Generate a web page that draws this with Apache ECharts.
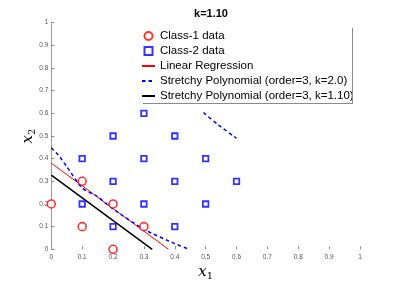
<!DOCTYPE html>
<html><head><meta charset="utf-8">
<script src="https://cdn.jsdelivr.net/npm/echarts@6/dist/echarts.min.js"></script>
<style>html,body{margin:0;padding:0;background:#fff}#c{width:398px;height:282px}</style>
</head><body><div id="c"></div>
<script>
var titleText = 'k=1.10';
var seriesNames = ['Class-1 data','Class-2 data','Linear Regression','Stretchy Polynomial (order=3, k=2.0)','Stretchy Polynomial (order=3, k=1.10)'];
var xTickLabels = ['0','0.1','0.2','0.3','0.4','0.5','0.6','0.7','0.8','0.9','1'];
var yTickLabels = ['0','0.1','0.2','0.3','0.4','0.5','0.6','0.7','0.8','0.9','1'];
var class1 = [[0,0.2],[0.1,0.3],[0.1,0.1],[0.2,0.2],[0.2,0],[0.3,0.1]];
var class2 = [[0.1,0.4],[0.1,0.2],[0.2,0.5],[0.2,0.3],[0.2,0.1],[0.3,0.6],[0.3,0.4],[0.3,0.2],[0.4,0.5],[0.4,0.3],[0.4,0.1],[0.5,0.4],[0.5,0.2],[0.6,0.3]];
var linReg = [[0,0.38],[0.38,0]];
var polyK20Lower = [[0,0.448],[0.023,0.416],[0.05,0.365],[0.1,0.27],[0.147,0.235],[0.2,0.178],[0.3,0.088],[0.4,0.025],[0.446,0]];
var polyK20Upper = [[0.493,0.603],[0.54,0.55],[0.6,0.49]];
var polyK110 = [[0,0.327],[0.327,0]];

var polyK20 = polyK20Lower.concat([[null,null]]).concat(polyK20Upper);

var chart = echarts.init(document.getElementById('c'), null, {renderer:'canvas'});
var tickColor = '#8a8a8a';
var hideSym = {opacity:0};
var nameRich = {
  i:{fontFamily:'DejaVu Serif',fontStyle:'italic',fontSize:15,lineHeight:18,verticalAlign:'middle',color:'#000'},
  s:{fontFamily:'DejaVu Serif',fontSize:10,lineHeight:10,verticalAlign:'bottom',color:'#000'}
};
chart.setOption({
  animation:false,
  backgroundColor:'#fff',
  title:{text:titleText,left:206,textAlign:'center',top:3,textStyle:{fontSize:11,fontWeight:'bold',color:'#000',fontFamily:'Liberation Sans'}},
  grid:{left:51.3,right:38,top:22.7,bottom:32.7,containLabel:false,outerBoundsMode:'none'},
  legend:{
    orient:'vertical',left:141,top:30,padding:0,itemWidth:13,itemHeight:8,itemGap:3,
    textStyle:{fontSize:11.5,color:'#000',fontFamily:'Liberation Sans'},
    data:[
      {name:seriesNames[0],icon:'circle'},
      {name:seriesNames[1],icon:'path://M0,0H10V10H0Z'},
      {name:seriesNames[2],itemStyle:hideSym},
      {name:seriesNames[3],itemStyle:hideSym},
      {name:seriesNames[4],itemStyle:hideSym}
    ]
  },
  xAxis:{
    type:'value',min:0,max:1,interval:0.1,
    name:'{i|x}{s|1}',nameLocation:'middle',nameGap:14,nameMoveOverlap:false,
    nameTextStyle:{rich:nameRich},
    axisLine:{show:false},
    axisTick:{show:true,inside:true,length:3,lineStyle:{color:tickColor}},
    splitLine:{show:false},
    axisLabel:{fontSize:6.5,color:'#555',margin:4,fontFamily:'Liberation Sans',
      formatter:function(v){return xTickLabels[Math.round(v*10)];}}
  },
  yAxis:{
    type:'value',min:0,max:1,interval:0.1,
    name:'{i|x}{s|2}',nameLocation:'middle',nameGap:14,nameRotate:90,nameMoveOverlap:false,
    nameTextStyle:{rich:nameRich},
    axisLine:{show:true,lineStyle:{color:'#9a9a9a',width:1}},
    axisTick:{show:true,inside:true,length:3,lineStyle:{color:tickColor}},
    splitLine:{show:false},
    axisLabel:{fontSize:6.5,color:'#555',margin:3,fontFamily:'Liberation Sans',
      formatter:function(v){return yTickLabels[Math.round(v*10)];}}
  },
  graphic:[
    {type:'line',shape:{x1:352.5,y1:28,x2:352.5,y2:103},style:{stroke:'#8a8a8a',lineWidth:1},z:10},
    {type:'line',shape:{x1:143,y1:103.5,x2:353,y2:103.5},style:{stroke:'#8a8a8a',lineWidth:1},z:10}
  ],
  series:[
    {name:seriesNames[0],type:'scatter',data:class1,symbol:'circle',symbolSize:8,clip:false,
     itemStyle:{color:'#fff',borderColor:'#ff0000',borderWidth:1.6},z:5},
    {name:seriesNames[1],type:'scatter',data:class2,symbol:'rect',symbolSize:5.5,clip:false,
     itemStyle:{color:'#fff',borderColor:'#0000ff',borderWidth:1.8},z:5},
    {name:seriesNames[2],type:'line',data:linReg,symbol:'none',
     lineStyle:{color:'#ff0000',width:1},itemStyle:{color:'#ff0000'},z:3},
    {name:seriesNames[3],type:'line',data:polyK20,symbol:'none',connectNulls:false,smooth:0.2,
     lineStyle:{color:'#0000ff',width:1.5,type:[3.5,3]},itemStyle:{color:'#0000ff'},z:3},
    {name:seriesNames[4],type:'line',data:polyK110,symbol:'none',
     lineStyle:{color:'#000',width:1.5},itemStyle:{color:'#000'},z:3}
  ]
});
</script></body></html>
